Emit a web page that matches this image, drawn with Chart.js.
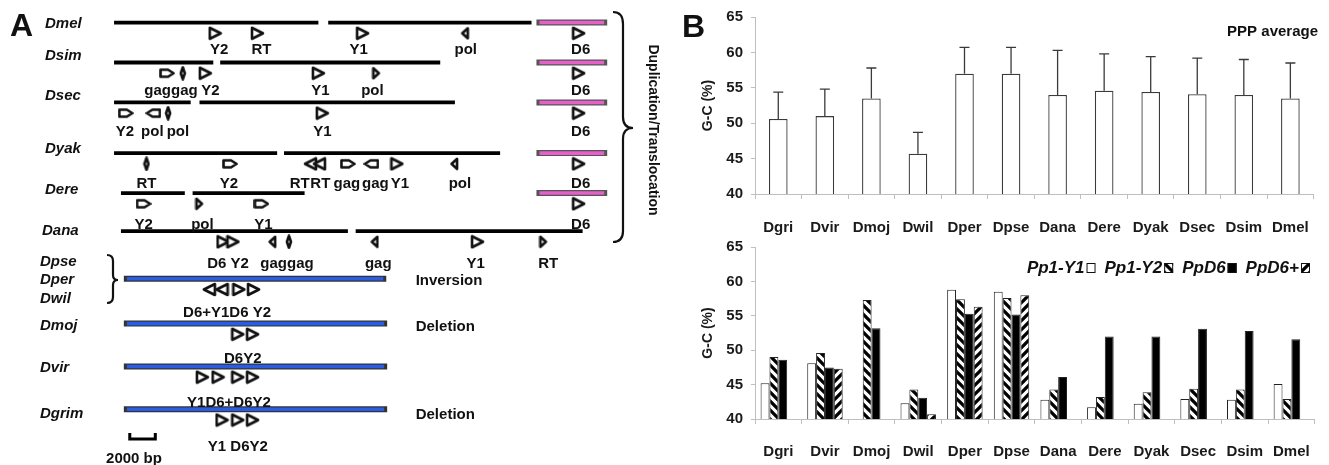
<!DOCTYPE html>
<html><head><meta charset="utf-8">
<script src="https://cdn.jsdelivr.net/npm/chart.js@4.4.1/dist/chart.umd.min.js"></script>
<style>
html,body{margin:0;padding:0;background:#fff;}
body{width:1329px;height:465px;position:relative;overflow:hidden;}
canvas{position:absolute;display:block;}
#ca{left:0;top:0;}
#cb1{left:680px;top:0;}
#cb2{left:680px;top:230px;}
</style></head><body>
<canvas id="ca" width="680" height="465"></canvas>
<canvas id="cb1" width="649" height="242"></canvas>
<canvas id="cb2" width="649" height="235"></canvas>
<script>
// ---------------- DATA: panel B ----------------
const categories = ['Dgri','Dvir','Dmoj','Dwil','Dper','Dpse','Dana','Dere','Dyak','Dsec','Dsim','Dmel'];
const yTicks = [40,45,50,55,60,65];
const pppAverage  = [50.6,51.0,53.5,45.7,57.0,57.0,54.0,54.6,54.4,54.1,54.0,53.5];
const pppErrorTop = [54.4,54.8,57.8,48.7,60.7,60.7,60.3,59.8,59.4,59.2,59.0,58.5];
const pp1Y1    = [45.2,48.1,null,42.3,58.8,58.5,42.8,41.7,42.2,42.9,42.8,45.1];
const pp1Y2    = [49.0,49.6,57.3,44.3,57.4,57.6,44.3,43.2,43.9,44.4,44.3,42.9];
const ppD6     = [48.6,47.5,53.2,43.1,55.3,55.2,46.1,52.0,52.0,53.1,52.8,51.6];
const ppD6plus = [null,47.3,null,40.7,56.3,58.0,null,null,null,null,null,null];
const seriesNames = ['Pp1-Y1','Pp1-Y2','PpD6','PpD6+'];

// ---------------- DATA: panel A (positions in kb) ----------------
const speciesNames = ['Dmel','Dsim','Dsec','Dyak','Dere','Dana','Dpse','Dper','Dwil','Dmoj','Dvir','Dgrim'];
// [row, start kb, end kb]
const blackContigs = [[0,0,16.0],[0,16.77,32.69],[1,0,7.77],[1,8.31,25.54],[2,0,6.0],[2,6.69,26.69],
  [3,0,12.77],[3,13.31,30.23],[4,0.54,5.54],[4,6.15,14.92],[5,0.54,18.31],[5,18.92,36.69]];
const pinkContigs = [[0,33.31,38.38],[1,33.31,38.38],[2,33.31,38.38],[3,33.31,38.38],[4,33.31,38.38]];
const blueContigs = [[6,1.0,21.08],[7,1.0,21.15],[8,1.0,21.15],[9,1.0,21.15]];
// [row, kb, shape]  R/L triangle, r/l narrow triangle, BR/BL block arrow, T thin gene
const genes = [
 [0,7.92,'R'],[0,11.23,'R'],[0,19.46,'R'],[0,27.46,'l'],[0,36.38,'R'],
 [1,4.15,'BR'],[1,5.38,'T'],[1,7.15,'R'],[1,16.0,'R'],[1,20.54,'r'],[1,36.38,'R'],
 [2,0.92,'BR'],[2,3.08,'BL'],[2,4.23,'T'],[2,16.31,'R'],[2,36.38,'R'],
 [3,2.54,'T'],[3,9.08,'BR'],[3,15.38,'L'],[3,16.08,'L'],[3,18.31,'BR'],[3,20.15,'BL'],[3,22.15,'R'],[3,26.62,'l'],[3,36.38,'R'],
 [4,2.31,'BR'],[4,6.69,'r'],[4,11.54,'BR'],[4,36.38,'R'],
 [5,8.54,'R'],[5,9.31,'R'],[5,12.38,'l'],[5,13.69,'T'],[5,20.38,'l'],[5,28.46,'R'],[5,33.62,'r'],
 [6,7.46,'L'],[6,8.46,'L'],[6,9.77,'R'],[6,10.92,'R'],
 [7,9.69,'R'],[7,10.85,'R'],
 [8,6.92,'R'],[8,8.15,'R'],[8,9.69,'R'],[8,10.85,'R'],
 [9,8.46,'R'],[9,9.69,'R'],[9,10.85,'R']
];
// [row, kb, text]
const geneLabels = [
 [0,8.23,'Y2'],[0,11.54,'RT'],[0,19.15,'Y1'],[0,27.54,'pol'],[0,36.54,'D6'],
 [1,4.46,'gaggag'],[1,7.54,'Y2'],[1,16.15,'Y1'],[1,20.23,'pol'],[1,36.54,'D6'],
 [2,0.85,'Y2'],[2,3.0,'pol'],[2,5.0,'pol'],[2,16.31,'Y1'],[2,36.54,'D6'],
 [3,2.54,'RT'],[3,9.0,'Y2'],[3,14.54,'RT'],[3,16.15,'RT'],[3,18.23,'gag'],[3,20.46,'gag'],[3,22.38,'Y1'],[3,27.08,'pol'],[3,36.54,'D6'],
 [4,2.31,'Y2'],[4,6.92,'pol'],[4,11.69,'Y1'],[4,36.54,'D6'],
 [5,8.92,'D6 Y2'],[5,13.54,'gaggag'],[5,20.69,'gag'],[5,28.31,'Y1'],[5,34.0,'RT'],
 [6,8.85,'D6+Y1D6 Y2'],[7,10.08,'D6Y2'],[8,9.0,'Y1D6+D6Y2'],[9,9.69,'Y1 D6Y2']
];
const eventLabels = [[6,'Inversion'],[7,'Deletion'],[9,'Deletion']];
const scaleBarKb = 2; const scaleBarText = '2000 bp';

// ---------------- LAYOUT (not data) ----------------
const FONT = '"Liberation Sans", Arial, Helvetica, sans-serif';
Chart.defaults.font.family = FONT;
Chart.defaults.color = '#1a1a1a';
const rowY = [17,58,99,151,192,231,280,326,370,414];
const speciesY = [23,55,95,148,189,230,261,279,298,325,367,413];
const speciesX = [45,45,45,45,45,42,40,40,40,40,40,40];
const xMin = -110/13, xMax = 570/13;  // 13 px per kb

// ---------- shapes for genes ----------
const shapeSize = {R:[15,15],L:[15,15],r:[10,14],l:[10,14],BR:[16,12],BL:[16,12],T:[8,15]};
function makeShape(t){
  const [w,h] = shapeSize[t];
  const c = document.createElement('canvas'); c.width = w; c.height = h;
  const g = c.getContext('2d');
  g.lineWidth = 2.6; g.lineJoin = 'round'; g.strokeStyle = '#111'; g.fillStyle = '#fff';
  const pts = {
    R:[[2,2],[w-2,h/2],[2,h-2]],
    L:[[w-2,2],[2,h/2],[w-2,h-2]],
    r:[[2,2],[w-2.5,h/2],[2,h-2]],
    l:[[w-2,2],[2.5,h/2],[w-2,h-2]],
    BR:[[1.5,2.5],[9,2.5],[w-1.5,h/2],[9,h-2.5],[1.5,h-2.5]],
    BL:[[w-1.5,2.5],[w-9,2.5],[1.5,h/2],[w-9,h-2.5],[w-1.5,h-2.5]],
    T:[[w/2,1.5],[w-2,h/2],[w/2,h-1.5],[2,h/2]]
  }[t];
  g.beginPath(); g.moveTo(pts[0][0],pts[0][1]);
  for (let i=1;i<pts.length;i++) g.lineTo(pts[i][0],pts[i][1]);
  g.closePath(); g.fill(); g.stroke();
  return c;
}
const shapeImgs = {}; Object.keys(shapeSize).forEach(k => shapeImgs[k] = makeShape(k));

function segDatasets(list, color, width, cap, order){
  return list.map(([r,a,b]) => ({type:'line', data:[{x:a,y:rowY[r]},{x:b,y:rowY[r]}],
    borderColor:color, borderWidth:width, borderCapStyle:cap, pointRadius:0, fill:false, tension:0, order}));
}
const aDatasets = [
  {type:'scatter', data: genes.map(([r,x,t]) => ({x, y: rowY[r]+11, t})),
   pointStyle: c => (c.raw && c.raw.t) ? shapeImgs[c.raw.t] : 'circle', pointRadius:5, order:0},
  ...segDatasets(blackContigs,'#000',3.8,'butt',5),
  ...segDatasets(pinkContigs,'#e65fcb',3.6,'butt',5),
  ...segDatasets(blueContigs,'#2b5ce6',3.6,'butt',5),
  ...segDatasets(pinkContigs,'#555',6,'square',10),
  ...segDatasets(blueContigs,'#333',6,'square',10)
];

const annoA = {
  id:'annoA',
  afterDraw(chart){
    const ctx = chart.ctx, xs = chart.scales.x;
    ctx.save();
    ctx.fillStyle = '#111';
    ctx.textBaseline = 'alphabetic';
    ctx.font = 'bold 32px ' + FONT; ctx.textAlign = 'left';
    ctx.fillText('A', 10, 36);
    ctx.font = 'italic bold 15px ' + FONT;
    speciesNames.forEach((n,i) => ctx.fillText(n, speciesX[i], speciesY[i]+5.4));
    ctx.font = 'bold 15px ' + FONT; ctx.textAlign = 'center';
    geneLabels.forEach(([r,x,t]) => ctx.fillText(t, xs.getPixelForValue(x), rowY[r]+37.4));
    ctx.textAlign = 'left';
    eventLabels.forEach(([r,t]) => ctx.fillText(t, xs.getPixelForValue(23.62), rowY[r]+5.4));
    // scale bar
    const x0 = xs.getPixelForValue(1.23), x1 = xs.getPixelForValue(1.23+scaleBarKb);
    ctx.strokeStyle = '#000'; ctx.lineWidth = 3;
    ctx.beginPath(); ctx.moveTo(x0, 433); ctx.lineTo(x0, 439); ctx.lineTo(x1, 439); ctx.lineTo(x1, 433); ctx.stroke();
    ctx.textAlign = 'center'; ctx.fillText(scaleBarText, 134, 463);
    // braces
    ctx.lineWidth = 2.2; ctx.strokeStyle = '#111';
    ctx.beginPath();
    ctx.moveTo(613,12); ctx.quadraticCurveTo(623,12,623,24); ctx.lineTo(623,117);
    ctx.quadraticCurveTo(623,128,633,128); ctx.quadraticCurveTo(623,128,623,139);
    ctx.lineTo(623,231); ctx.quadraticCurveTo(623,242,613,242); ctx.stroke();
    ctx.beginPath();
    ctx.moveTo(107,255); ctx.quadraticCurveTo(113,255,113,261); ctx.lineTo(113,275);
    ctx.quadraticCurveTo(113,280,118,280); ctx.quadraticCurveTo(113,280,113,285);
    ctx.lineTo(113,297); ctx.quadraticCurveTo(113,303,107,303); ctx.stroke();
    // rotated label
    ctx.translate(653,130); ctx.rotate(Math.PI/2);
    ctx.font = 'bold 14px ' + FONT; ctx.textAlign = 'center'; ctx.textBaseline = 'middle';
    ctx.fillText('Duplication/Translocation', 0, 0);
    ctx.restore();
  }
};

new Chart(document.getElementById('ca'), {
  type:'scatter',
  data:{datasets:aDatasets},
  options:{responsive:false, animation:false, events:[],
    layout:{padding:0},
    plugins:{legend:{display:false}, tooltip:{enabled:false}},
    scales:{
      x:{type:'linear', min:xMin, max:xMax, display:false},
      y:{type:'linear', min:0, max:465, reverse:true, display:false}
    }},
  plugins:[annoA]
});

// ---------------- panel B ----------------
function yScaleOpts(){
  return {
    min:40, max:65,
    afterBuildTicks: s => { s.ticks = yTicks.map(v => ({value:v})); },
    ticks:{padding:8, color:'#1a1a1a', font:{size:15, weight:'bold'}},
    grid:{drawOnChartArea:false, tickLength:4, color:'#bfbfbf'},
    border:{color:'#bfbfbf'},
    title:{display:true, text:'G-C (%)', color:'#1a1a1a', font:{size:14, weight:'bold'}, padding:{top:20,bottom:0}},
    afterFit: s => { s.width = 75; }
  };
}
function xScaleOpts(h, pad){
  return {
    grid:{display:true, drawOnChartArea:false, drawTicks:true, tickLength:5, color:'#bfbfbf', offset:true},
    border:{display:true, color:'#bfbfbf'},
    ticks:{padding:pad, color:'#1a1a1a', font:{size:15, weight:'bold'}, maxRotation:0, autoSkip:false},
    afterFit: s => { s.height = h; }
  };
}

const topPlugin = {
  id:'topExtras',
  afterDatasetsDraw(chart){
    const ctx = chart.ctx, ys = chart.scales.y, meta = chart.getDatasetMeta(0);
    ctx.save();
    ctx.strokeStyle = '#3a3a3a'; ctx.lineWidth = 1.3;
    meta.data.forEach((bar,i) => {
      const yt = ys.getPixelForValue(pppErrorTop[i]);
      ctx.beginPath();
      ctx.moveTo(bar.x, bar.y); ctx.lineTo(bar.x, yt);
      ctx.moveTo(bar.x-5, yt); ctx.lineTo(bar.x+5, yt);
      ctx.stroke();
    });
    ctx.fillStyle = '#111';
    ctx.font = 'bold 15px ' + FONT; ctx.textAlign = 'right'; ctx.textBaseline = 'alphabetic';
    ctx.fillText('PPP average', 638, 35.5);
    ctx.font = 'bold 32px ' + FONT; ctx.textAlign = 'left';
    ctx.fillText('B', 2, 37);
    ctx.restore();
  }
};

new Chart(document.getElementById('cb1'), {
  type:'bar',
  data:{labels:categories, datasets:[{label:'PPP average', data:pppAverage, backgroundColor:'#fff',
    borderColor:'#3a3a3a', borderWidth:1.3, categoryPercentage:0.8, barPercentage:0.5}]},
  options:{responsive:false, animation:false, events:[],
    layout:{padding:{top:16,right:7,left:0,bottom:0}},
    plugins:{legend:{display:false}, tooltip:{enabled:false}},
    scales:{x:xScaleOpts(48,20), y:yScaleOpts()}},
  plugins:[topPlugin]
});

const cb2 = document.getElementById('cb2');
const ctx2 = cb2.getContext('2d');
function hatch(dir){
  const s = 9, c = document.createElement('canvas'); c.width = s; c.height = s;
  const g = c.getContext('2d');
  g.fillStyle = '#fff'; g.fillRect(0,0,s,s);
  g.strokeStyle = '#000'; g.lineWidth = 3.3;
  g.beginPath();
  for (const k of [-s,0,s]) {
    if (dir === 'back') { g.moveTo(-2, -2+k); g.lineTo(s+2, s+2+k); }
    else { g.moveTo(-2, s+2+k); g.lineTo(s+2, -2+k); }
  }
  g.stroke();
  return ctx2.createPattern(c, 'repeat');
}
const hatchBack = hatch('back'), hatchFwd = hatch('fwd');

const legendPlugin = {
  id:'gcLegend',
  afterDraw(chart){
    const ctx = chart.ctx;
    ctx.save();
    ctx.font = 'italic bold 17px ' + FONT;
    ctx.textBaseline = 'alphabetic'; ctx.textAlign = 'left';
    const ds = chart.data.datasets;
    const boxW = 9, boxH = 10, gapTB = 2, gapBT = 9, base = 43;
    const widths = ds.map(d => ctx.measureText(d.label).width);
    const total = widths.reduce((a,b)=>a+b,0) + ds.length*(gapTB+boxW) + (ds.length-1)*gapBT;
    let x = 630 - total;
    ds.forEach((d,i) => {
      ctx.fillStyle = '#111'; ctx.fillText(d.label, x, base);
      x += widths[i] + gapTB;
      ctx.save(); ctx.translate(x, base-boxH);
      ctx.fillStyle = d.backgroundColor; ctx.fillRect(0,0,boxW,boxH);
      ctx.strokeStyle = '#111'; ctx.lineWidth = 1; ctx.strokeRect(0.5,0.5,boxW-1,boxH-1);
      ctx.restore();
      x += boxW + gapBT;
    });
    ctx.restore();
  }
};

const bdef = {borderColor:'#222', borderWidth:1, categoryPercentage:0.76, barPercentage:1.0};
new Chart(cb2, {
  type:'bar',
  data:{labels:categories, datasets:[
    {label:seriesNames[0], data:pp1Y1, backgroundColor:'#fff', ...bdef},
    {label:seriesNames[1], data:pp1Y2, backgroundColor:hatchBack, ...bdef},
    {label:seriesNames[2], data:ppD6, backgroundColor:'#000', ...bdef},
    {label:seriesNames[3], data:ppD6plus, backgroundColor:hatchFwd, ...bdef}
  ]},
  options:{responsive:false, animation:false, events:[],
    layout:{padding:{top:9,right:7,left:0,bottom:0}},
    plugins:{legend:{display:false}, tooltip:{enabled:false}},
    scales:{x:xScaleOpts(46,19), y:yScaleOpts()}},
  plugins:[legendPlugin]
});
</script>
</body></html>
